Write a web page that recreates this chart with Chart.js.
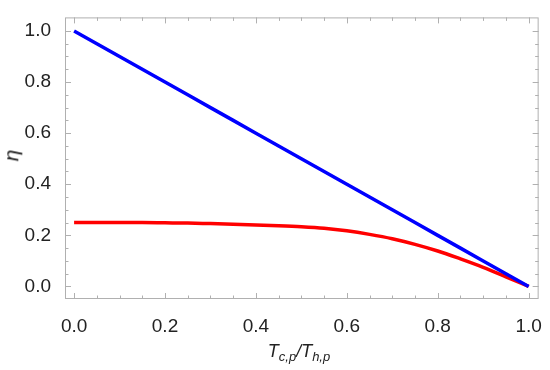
<!DOCTYPE html>
<html>
<head>
<meta charset="utf-8">
<script src="https://cdn.jsdelivr.net/npm/chart.js@4"></script>
<style>
  body { margin: 0; background: #fff; }
  #wrap { position: relative; width: 550px; height: 370px; }
  .axis-title { position: absolute; font-family: "Liberation Sans", Arial, sans-serif; color: #222; font-style: italic; line-height: 1; }
  .axis-title sub { font-size: 13px; vertical-align: -4px; }
  #xTitle { left: 0; width: 598px; top: 342px; text-align: center; font-size: 18px; }
  #yTitle { left: 5px; top: 145px; font-size: 21px; transform: rotate(-90deg); }
</style>
</head>
<body>
<div id="wrap">
  <canvas id="myChart" width="550" height="370"></canvas>
  <div id="xTitle" class="axis-title">T<sub>c,p</sub>/T<sub>h,p</sub></div>
  <div id="yTitle" class="axis-title">η</div>
</div>
<script>
// x = Tc,p / Th,p
const ratio = [0, 0.05, 0.1, 0.15, 0.2, 0.25, 0.3, 0.35, 0.4, 0.45, 0.5,
  0.55, 0.6, 0.65, 0.7, 0.75, 0.8, 0.85, 0.9, 0.95, 1];
const etaCarnot = [1, 0.95, 0.9, 0.85, 0.8, 0.75, 0.7, 0.65, 0.6, 0.55, 0.5,
  0.45, 0.4, 0.35, 0.3, 0.25, 0.2, 0.15, 0.1, 0.05, 0];
const etaOther = [0.25, 0.25, 0.25, 0.25, 0.249, 0.248, 0.246, 0.244, 0.241, 0.238, 0.234,
  0.228, 0.218, 0.204, 0.187, 0.165, 0.139, 0.108, 0.075, 0.038, 0];
const majorTicks = [0, 0.2, 0.4, 0.6, 0.8, 1];
const minorTicks = [0.05, 0.1, 0.15, 0.25, 0.3, 0.35, 0.45, 0.5, 0.55, 0.65, 0.7, 0.75, 0.85, 0.9, 0.95];

const toPoints = (ys) => ratio.map((x, i) => ({ x: x, y: ys[i] }));

// frame with inward ticks on all four sides, like the original plot
const framePlugin = {
  id: "frame",
  afterDraw(chart) {
    const { ctx, chartArea: a, scales } = chart;
    ctx.save();
    ctx.strokeStyle = "#b0b0b0";
    ctx.lineWidth = 1;
    ctx.strokeRect(a.left + 0.5, a.top + 0.5, a.right - a.left - 1, a.bottom - a.top - 1);
    ctx.beginPath();
    const tick = (v, len) => {
      const px = Math.round(scales.x.getPixelForValue(v)) + 0.5;
      ctx.moveTo(px, a.bottom); ctx.lineTo(px, a.bottom - len);
      ctx.moveTo(px, a.top); ctx.lineTo(px, a.top + len);
      const py = Math.round(scales.y.getPixelForValue(v)) + 0.5;
      ctx.moveTo(a.left, py); ctx.lineTo(a.left + len, py);
      ctx.moveTo(a.right, py); ctx.lineTo(a.right - len, py);
    };
    majorTicks.forEach((v) => tick(v, 6));
    minorTicks.forEach((v) => tick(v, 3.5));
    ctx.stroke();
    ctx.restore();
  },
};

const ctx = document.getElementById("myChart").getContext("2d");
new Chart(ctx, {
  type: "line",
  data: {
    datasets: [
      {
        label: "Carnot",
        data: toPoints(etaCarnot),
        borderColor: "#0000ff",
        borderWidth: 3.5,
        pointRadius: 0,
        fill: false,
      },
      {
        label: "eta",
        data: toPoints(etaOther),
        borderColor: "#ff0000",
        borderWidth: 3.5,
        pointRadius: 0,
        cubicInterpolationMode: "monotone",
        fill: false,
      },
    ],
  },
  plugins: [framePlugin],
  options: {
    responsive: false,
    animation: false,
    layout: { padding: { top: 6, right: 7, left: 0, bottom: 0 } },
    plugins: { legend: { display: false }, tooltip: { enabled: false } },
    scales: {
      x: {
        type: "linear",
        min: -0.02,
        max: 1.022,
        afterBuildTicks: (s) => { s.ticks = majorTicks.map((v) => ({ value: v })); },
        afterFit: (s) => { s.height = 71; },
        grid: { display: false },
        border: { display: false },
        ticks: {
          padding: 8,
          color: "#222",
          font: { family: "Liberation Sans", size: 19 },
          callback: (v) => v.toFixed(1),
          maxRotation: 0,
        },
      },
      y: {
        type: "linear",
        min: -0.049,
        max: 1.053,
        afterBuildTicks: (s) => { s.ticks = majorTicks.map((v) => ({ value: v })); },
        afterFit: (s) => { s.width = 65; },
        grid: { display: false },
        border: { display: false },
        ticks: {
          padding: 6,
          color: "#222",
          font: { family: "Liberation Sans", size: 19 },
          callback: (v) => v.toFixed(1),
        },
      },
    },
  },
});
</script>
</body>
</html>
